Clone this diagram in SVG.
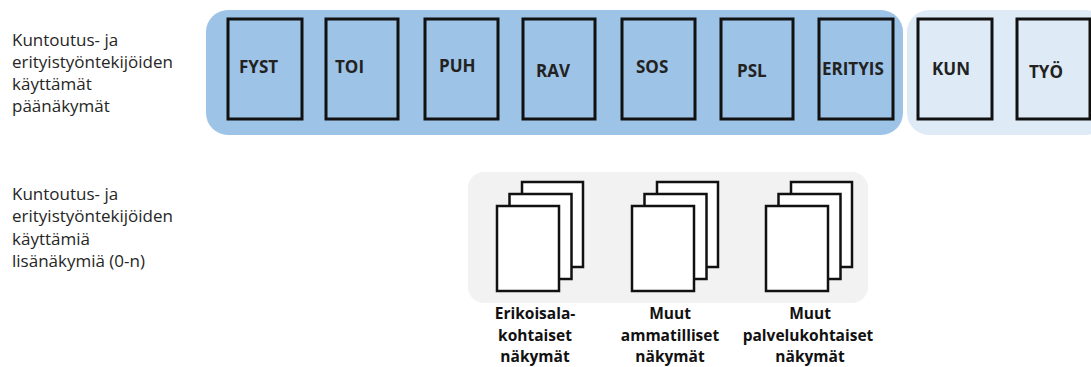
<svg xmlns="http://www.w3.org/2000/svg" width="1091" height="367" viewBox="0 0 1091 367">
<style>
.lbl{font-family:"Open Sans","Liberation Sans",sans-serif;font-size:17px;fill:#262626}
.box{fill:#9dc3e6;stroke:#111;stroke-width:3}
.lbox{fill:#deebf7;stroke:#111;stroke-width:3}
.bt{font-family:"Open Sans","Liberation Sans",sans-serif;font-size:17px;font-weight:bold;fill:#222}
.page{fill:#fff;stroke:#111;stroke-width:2.5}
.cap{font-family:"Open Sans","Liberation Sans",sans-serif;font-size:15.5px;font-weight:bold;fill:#111;text-anchor:middle}
</style>
<defs>
<g id="stack">
<rect class="page" x="25" y="0" width="61" height="85"/>
<rect class="page" x="12.5" y="12" width="62" height="85"/>
<rect class="page" x="0" y="24" width="62" height="85"/>
</g>
</defs>
<rect width="1091" height="367" fill="#fff"/>
<g id="label-main">
<text class="lbl" x="12" y="46">Kuntoutus- ja</text>
<text class="lbl" x="12" y="68">erityistyöntekijöiden</text>
<text class="lbl" x="12" y="90">käyttämät</text>
<text class="lbl" x="12" y="112">päänäkymät</text>
</g>
<g id="label-extra">
<text class="lbl" x="12" y="200">Kuntoutus- ja</text>
<text class="lbl" x="12" y="222">erityistyöntekijöiden</text>
<text class="lbl" x="12" y="245">käyttämiä</text>
<text class="lbl" x="12" y="267">lisänäkymiä (0-n)</text>
</g>
<g id="panel-main">
<rect x="206" y="10" width="697" height="125" rx="22" fill="#9dc3e6"/>
<rect x="907" y="10" width="200" height="125" rx="22" fill="#deebf7"/>
</g>
<g id="node-FYST"><rect class="box" x="228" y="19" width="74" height="100"/><text class="bt" x="239" y="73">FYST</text></g>
<g id="node-TOI"><rect class="box" x="326" y="19" width="72" height="100"/><text class="bt" x="335" y="73">TOI</text></g>
<g id="node-PUH"><rect class="box" x="425" y="19" width="73" height="100"/><text class="bt" x="439" y="72">PUH</text></g>
<g id="node-RAV"><rect class="box" x="523" y="19" width="72" height="100"/><text class="bt" x="536" y="77">RAV</text></g>
<g id="node-SOS"><rect class="box" x="622" y="19" width="73" height="100"/><text class="bt" x="636" y="73">SOS</text></g>
<g id="node-PSL"><rect class="box" x="721" y="19" width="72" height="100"/><text class="bt" x="737" y="77">PSL</text></g>
<g id="node-ERITYIS"><rect class="box" x="819" y="19" width="74" height="100"/><text class="bt" x="822" y="75">ERITYIS</text></g>
<g id="node-KUN"><rect class="lbox" x="918" y="19" width="74" height="100"/><text class="bt" x="932" y="75">KUN</text></g>
<g id="node-TYO"><rect class="lbox" x="1017" y="19" width="73" height="100"/><text class="bt" x="1029" y="78">TYÖ</text></g>
<g id="panel-extra">
<rect x="468" y="172" width="400" height="131" rx="16" fill="#f2f2f2"/>
</g>
<g id="node-erikoisala">
<use href="#stack" x="497" y="182"/>
<text class="cap" x="535" y="319">Erikoisala-</text>
<text class="cap" x="535" y="341">kohtaiset</text>
<text class="cap" x="535" y="362">näkymät</text>
</g>
<g id="node-ammatilliset">
<use href="#stack" x="632" y="182"/>
<text class="cap" x="670" y="319">Muut</text>
<text class="cap" x="670" y="341">ammatilliset</text>
<text class="cap" x="670" y="362">näkymät</text>
</g>
<g id="node-palvelu">
<use href="#stack" x="766" y="182"/>
<text class="cap" x="810" y="319">Muut</text>
<text class="cap" x="808" y="341">palvelukohtaiset</text>
<text class="cap" x="810" y="362">näkymät</text>
</g>
<g id="connectors"></g>
</svg>
